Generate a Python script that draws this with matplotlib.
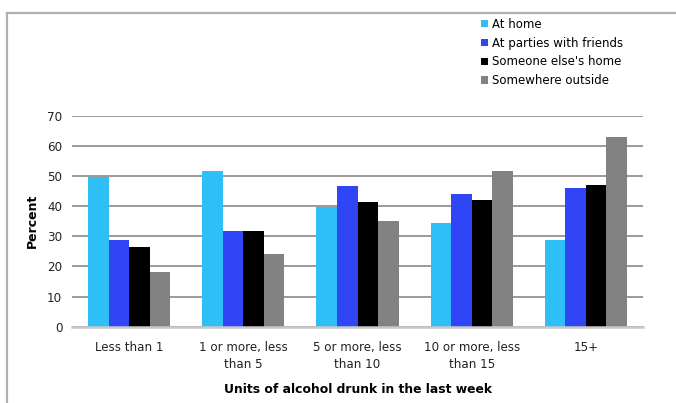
import numpy as np
import matplotlib.pyplot as plt
from matplotlib.lines import Line2D

categories = ["Less than 1", "1 or more, less\nthan 5", "5 or more, less\nthan 10",
              "10 or more, less\nthan 15", "15+"]
series_names = ["At home", "At parties with friends", "Someone else's home", "Somewhere outside"]
at_home = [49.5, 51.5, 39.8, 34.4, 28.8]
at_parties = [28.8, 31.7, 46.6, 44.0, 46.1]
someone_else = [26.6, 31.7, 41.5, 42.0, 47.0]
outside = [18.2, 24.2, 35.1, 51.8, 63.1]
colors = ["#2ebff7", "#3045f5", "#000000", "#828282"]

plt.rcParams['font.family'] = ['DejaVu Sans']

fig = plt.figure(figsize=(6.76, 4.03), dpi=100)
ax = fig.add_axes([0.1065, 0.1893, 0.8447, 0.5236])

x = np.arange(len(categories))
width = 0.18
values = [at_home, at_parties, someone_else, outside]
for i, (vals, name, c) in enumerate(zip(values, series_names, colors)):
    ax.bar(x + (i - 1.5) * width, vals, width, color=c, label=name, zorder=3)

ax.set_xlim(-0.5, len(categories) - 0.5)
ax.set_ylim(0, 70)
ax.set_yticks(range(0, 71, 10))
ax.yaxis.grid(True, color="#9a9a9a", linewidth=1.4, zorder=0)
ax.set_axisbelow(True)
for s in ["top", "right", "left"]:
    ax.spines[s].set_visible(False)
ax.spines["bottom"].set_color("#c8c8c8")
ax.spines["bottom"].set_linewidth(1.8)
ax.spines["bottom"].set_zorder(4)
ax.tick_params(length=0, labelsize=8.6, colors="#222222")
ax.tick_params(axis="y", pad=7)
ax.tick_params(axis="x", pad=10)
ax.set_xticks(x)
ax.set_xticklabels(categories, linespacing=1.4)

ax.set_ylabel("Percent", fontsize=9, fontweight="bold", labelpad=6)
ax.set_xlabel("Units of alcohol drunk in the last week", fontsize=8.9, fontweight="bold", labelpad=9)

fig.legend(loc="upper left", bbox_to_anchor=(0.704, 0.968), frameon=False, fontsize=8.5,
           handlelength=0.6, handleheight=0.6, handletextpad=0.4, labelspacing=0.5,
           borderaxespad=0)

# outer frame lines (top and left)
fig.add_artist(Line2D([7 / 676, 1], [1 - 13 / 403, 1 - 13 / 403], color="#b0b0b0", linewidth=1.6,
                      transform=fig.transFigure))
fig.add_artist(Line2D([7 / 676, 7 / 676], [0, 1 - 13 / 403], color="#b0b0b0", linewidth=1.6,
                      transform=fig.transFigure))

plt.savefig("out.png", dpi=100)
